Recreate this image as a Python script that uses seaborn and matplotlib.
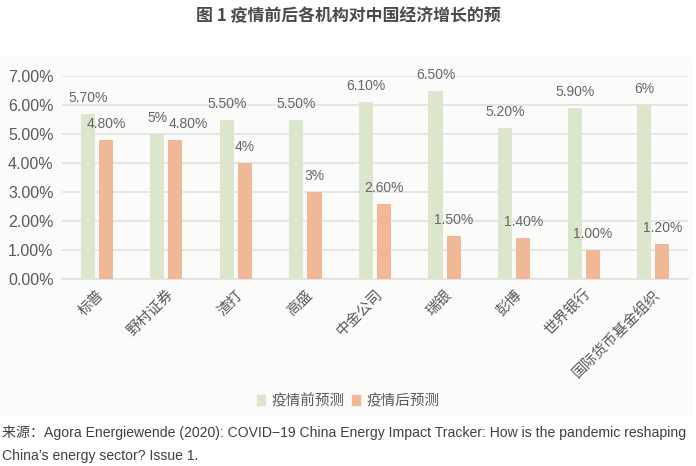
import matplotlib.pyplot as plt
import matplotlib.patches as mpatches
import seaborn as sns
import pandas as pd

# data
institutions = ["标普", "野村证券", "渣打", "高盛", "中金公司", "瑞银", "彭博", "世界银行", "国际货币基金组织"]
pre_covid = [5.7, 5.0, 5.5, 5.5, 6.1, 6.5, 5.2, 5.9, 6.0]
post_covid = [4.8, 4.8, 4.0, 3.0, 2.6, 1.5, 1.4, 1.0, 1.2]
pre_labels = ["5.70%", "5%", "5.50%", "5.50%", "6.10%", "6.50%", "5.20%", "5.90%", "6%"]
post_labels = ["4.80%", "4.80%", "4%", "3%", "2.60%", "1.50%", "1.40%", "1.00%", "1.20%"]
series = ["疫情前预测", "疫情后预测"]
yticks = [0, 1, 2, 3, 4, 5, 6, 7]

df = pd.DataFrame({
    "机构": institutions * 2,
    "预测": [v / 100 for v in pre_covid + post_covid],
    "系列": [series[0]] * len(institutions) + [series[1]] * len(institutions),
})

sns.set_style("white")
plt.rcParams["font.family"] = ["Noto Sans CJK SC", "DejaVu Sans"]
latin = ["Liberation Sans", "Noto Sans CJK SC"]

fig = plt.figure(figsize=(6.96, 4.66), dpi=100)
fig.patches.append(mpatches.Rectangle((0, 1 - 415 / 466), 692 / 696, (415 - 57) / 466,
                                      transform=fig.transFigure, color="#fbfbf9", zorder=-10))
ax = fig.add_axes([62 / 696, 1 - 279 / 466, 626 / 696, 203 / 466])
ax.set_facecolor("none")

palette = {series[0]: "#dce6cd", series[1]: "#f0b897"}
sns.barplot(data=df, x="机构", y="预测", hue="系列", palette=palette, width=0.52, gap=0.22,
            ax=ax, legend=False, saturation=1, linewidth=0, zorder=3)

ax.set_ylim(0, 0.07)
ax.set_yticks([t / 100 for t in yticks])
ax.set_yticklabels([f"{t:.2f}%" for t in yticks], fontsize=11.5, color="#595959", family=latin)
ax.yaxis.grid(True, color="#e3e3e3", linewidth=1.3, zorder=0)
ax.tick_params(axis="both", length=0, pad=6)
ax.set_xticks(range(len(institutions)))
ax.set_xticklabels(institutions, rotation=45, ha="right", rotation_mode="anchor",
                   fontsize=10.5, color="#595959")
ax.set_xlabel("")
ax.set_ylabel("")
for s in ["top", "right", "left"]:
    ax.spines[s].set_visible(False)
ax.spines["bottom"].set_color("#e3e3e3")
ax.spines["bottom"].set_linewidth(1.3)
ax.set_xlim(-0.5, len(institutions) - 0.5)

# value labels (the second orange label sits to the right in the original)
for k, (container, labels) in enumerate(zip(ax.containers, [pre_labels, post_labels])):
    for i, (bar, lab) in enumerate(zip(container, labels)):
        if k == 1 and i == 1:
            x, ha = bar.get_x(), "left"
        else:
            x, ha = bar.get_x() + bar.get_width() / 2, "center"
        ax.annotate(lab, (x, bar.get_height()),
                    xytext=(0, 11.5), textcoords="offset points", ha=ha, va="center",
                    fontsize=10, color="#666666", annotation_clip=False, family=latin)

# legend
handles = [mpatches.Patch(color=palette[s]) for s in series]
fig.legend(handles, series, loc="center", bbox_to_anchor=(0.5, 1 - 401 / 466), ncol=2,
           frameon=False, fontsize=10.5, handlelength=0.6, handleheight=0.6,
           handletextpad=0.4, columnspacing=0.5, labelcolor="#595959")

fig.text(0.5, 1 - 16 / 466, "图 1 疫情前后各机构对中国经济增长的预", ha="center", va="center",
         fontsize=12.2, fontweight="bold", color="#4a4a4a")
fig.text(2 / 696, 1 - 432 / 466,
         "来源：Agora Energiewende (2020): COVID−19 China Energy Impact Tracker: How is the pandemic reshaping",
         ha="left", va="center", fontsize=10.05, color="#404040", family=latin)
fig.text(2 / 696, 1 - 456 / 466, "China’s energy sector? Issue 1.",
         ha="left", va="center", fontsize=10.05, color="#404040", family=latin)

fig.savefig("out.png", dpi=100)
